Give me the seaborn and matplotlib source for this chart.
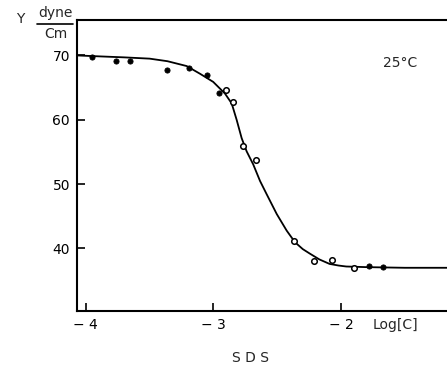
import matplotlib
matplotlib.use("Agg")
import matplotlib.pyplot as plt
import seaborn as sns
import pandas as pd

# measured points (log concentration, surface tension)
pt_logc = [-3.95, -3.76, -3.65, -3.36, -3.19, -3.05, -2.96, -2.90, -2.845,
           -2.766, -2.667, -2.37, -2.21, -2.07, -1.90, -1.78, -1.67]
pt_gamma = [69.7, 69.1, 69.1, 67.7, 68.1, 66.9, 64.2, 64.6, 62.8,
            55.9, 53.7, 41.2, 38.0, 38.2, 36.9, 37.3, 37.1]
pt_filled = [True, True, True, True, True, True, True, False, False,
             False, False, False, False, False, False, True, True]

# fitted curve
curve_logc = [-4.07, -3.89, -3.70, -3.50, -3.36, -3.21, -3.106, -3.002, -2.910,
              -2.857, -2.818, -2.779, -2.740, -2.688, -2.635, -2.583, -2.504,
              -2.426, -2.361, -2.30, -2.243, -2.17, -2.09, -2.02, -1.96,
              -1.80, -1.50, -1.17]
curve_gamma = [70.0, 69.85, 69.7, 69.5, 69.1, 68.35, 67.16, 65.89, 64.08,
               62.54, 59.98, 57.15, 55.10, 53.05, 50.49, 48.43, 45.35,
               42.77, 40.97, 39.9, 39.18, 38.3, 37.6, 37.35, 37.2,
               37.1, 37.0, 37.0]

x_ticks = [-4, -3, -2]
x_tick_labels = ["\u2212 4", "\u2212 3", "\u2212 2"]
y_ticks = [40, 50, 60, 70]

sns.set_theme(style="white")
plt.rcParams['font.family'] = ['DejaVu Sans']

fig = plt.figure(figsize=(4.47, 3.71), dpi=100)
ax = fig.add_axes([0.172, 0.162, 0.828, 0.784])

pts = pd.DataFrame({"logc": pt_logc, "gamma": pt_gamma, "filled": pt_filled})
crv = pd.DataFrame({"logc": curve_logc, "gamma": curve_gamma})

sns.lineplot(data=crv, x="logc", y="gamma", sort=False, color="black",
             linewidth=1.3, ax=ax)
sns.scatterplot(data=pts[pts["filled"]], x="logc", y="gamma", color="black",
                s=14, edgecolor="black", linewidth=0.6, ax=ax, zorder=3)
sns.scatterplot(data=pts[~pts["filled"]], x="logc", y="gamma", color="white",
                s=16, edgecolor="black", linewidth=1.1, ax=ax, zorder=3)

ax.set_xlim(-4.07, -1.17)
ax.set_ylim(30.3, 75.5)
ax.set_xticks(x_ticks)
ax.set_xticklabels(x_tick_labels)
ax.set_yticks(y_ticks)
ax.tick_params(axis="both", which="major", direction="in", length=6,
               width=1.2, colors="black", labelsize=10, pad=5,
               bottom=True, left=True, top=False, right=False)
ax.set_xlabel("")
ax.set_ylabel("")

for side in ["left", "bottom", "top"]:
    ax.spines[side].set_visible(True)
    ax.spines[side].set_color("black")
    ax.spines[side].set_linewidth(1.5)
ax.spines["right"].set_visible(False)

fig.text(0.045, 0.95, "Y", fontsize=10, ha="center", va="center")
fig.text(0.125, 0.964, "dyne", fontsize=10, ha="center", va="center")
fig.text(0.125, 0.908, "Cm", fontsize=10, ha="center", va="center")
fig.add_artist(plt.Line2D([0.083, 0.163], [0.935, 0.935], color="black",
                          linewidth=1.2, transform=fig.transFigure))

fig.text(0.895, 0.83, "25\u00b0C", fontsize=10, ha="center", va="center")
fig.text(0.885, 0.125, "Log[C]", fontsize=10, ha="center", va="center")
fig.text(0.56, 0.035, "S D S", fontsize=10, ha="center", va="center")

fig.savefig("out.png", dpi=100)
